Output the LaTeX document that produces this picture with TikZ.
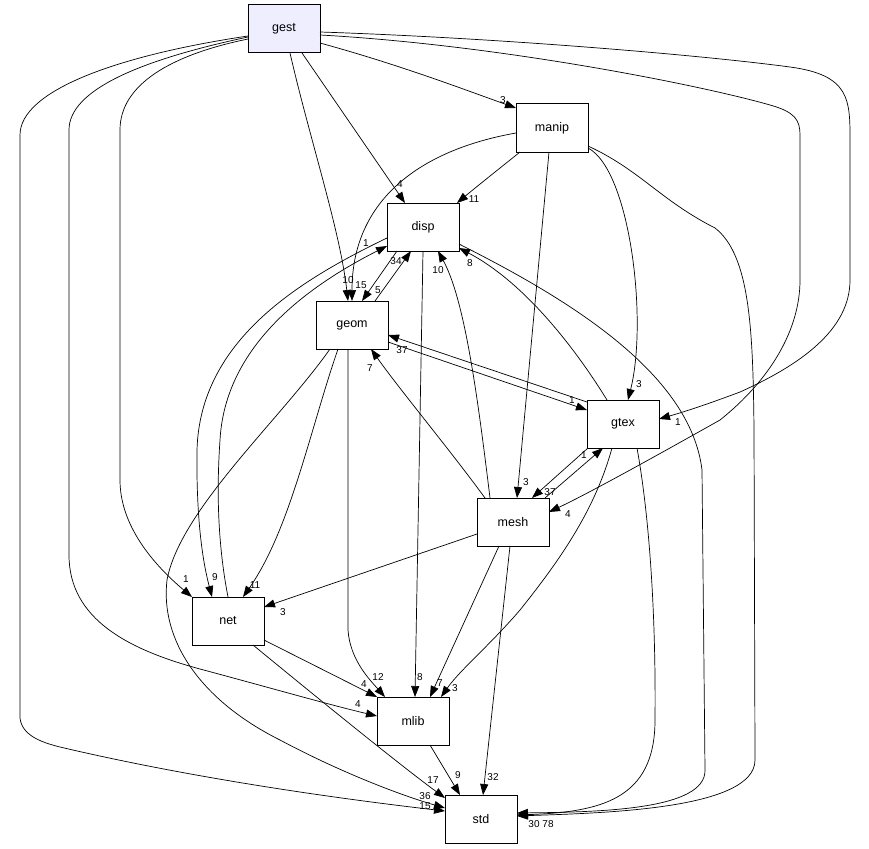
\documentclass[tikz,border=0pt]{standalone}
\usepackage{fontspec}
\setmainfont{Liberation Sans}
\usetikzlibrary{arrows.meta}
\definecolor{gestfill}{HTML}{EEEEFF}
\tikzset{
  dirbox/.style={draw=black, line width=1pt, fill=white, minimum width=72pt, minimum height=48pt, inner sep=0pt, outer sep=0pt, font=\fontsize{12.5}{14}\selectfont},
  edge/.style={draw=black, line width=0.7pt, -{Triangle[length=11pt,width=8pt]}},
  lbl/.style={inner sep=0pt, font=\fontsize{10}{11}\selectfont}
}
\begin{document}
\begin{tikzpicture}[x=1pt,y=-1pt]
\useasboundingbox (0,0) rectangle (869,848);
\fill[white] (0,0) rectangle (869,848);

\node[dirbox, fill=gestfill] (gest) at (284,29) {gest};
\node[dirbox] (manip) at (552,128) {manip};
\node[dirbox] (disp) at (423,227) {disp};
\node[dirbox] (geom) at (352,325) {geom};
\node[dirbox] (gtex) at (623,424) {gtex};
\node[dirbox] (mesh) at (513,522) {mesh};
\node[dirbox] (net) at (228,621) {net};
\node[dirbox] (mlib) at (413,721) {mlib};
\node[dirbox] (std) at (481,819) {std};

% gest edges
\draw[edge] ([yshift=-14pt]gest.east) .. controls (400,65) and (460,88) .. ([yshift=-4pt]manip.north west);
\draw[edge] ([xshift=18pt]gest.south) -- ([xshift=-18pt]disp.north);
\draw[edge] ([xshift=6pt]gest.south) .. controls (310,140) and (340,230) .. ([xshift=-4pt]geom.north);
\draw[edge] ([yshift=-3pt]gest.east) .. controls (500,38) and (700,55) .. (790,67)
  .. controls (850,75) and (850,100) .. (850,140) -- (850,280)
  .. controls (850,330) and (800,365) .. (740,392)
  .. controls (700,407) and (680,413) .. ([yshift=5pt]gtex.east);
\draw[edge] ([yshift=-6pt]gest.east) .. controls (500,45) and (700,85) .. (770,105)
  .. controls (795,112) and (800,120) .. (800,135) -- (800,280)
  .. controls (800,330) and (770,380) .. (720,420)
  .. controls (640,465) and (585,495) .. ([yshift=10pt]mesh.east);
\draw[edge] ([yshift=-10pt]gest.west) .. controls (170,55) and (120,85) .. (120,130) -- (120,480)
  .. controls (120,530) and (160,570) .. (net.north west);
\draw[edge] ([yshift=-8pt]gest.west) .. controls (140,60) and (69,90) .. (69,130) -- (69,555)
  .. controls (69,620) and (130,650) .. (200,669)
  .. controls (260,685) and (330,705) .. ([yshift=5pt]mlib.west);
\draw[edge] ([yshift=-7pt]gest.west) .. controls (120,55) and (20,90) .. (20,135) -- (20,718)
  .. controls (22,735) and (40,742) .. (60,747)
  .. controls (200,780) and (350,800) .. ([yshift=8pt]std.west);

% manip edges
\draw[edge] ([yshift=-5pt]manip.west) .. controls (420,150) and (352,200) .. (geom.north);
\draw[edge] ([xshift=-32pt]manip.south) .. controls (500,168) and (475,188) .. ([xshift=-2pt]disp.north east);
\draw[edge] ([xshift=-3pt]manip.south) -- ([xshift=4pt]mesh.north);
\draw[edge] ([yshift=4pt]manip.south east) .. controls (630,170) and (648,320) .. ([xshift=5pt]gtex.north);
\draw[edge] ([yshift=6pt]manip.south east) .. controls (640,170) and (660,200) .. (715,228)
  .. controls (750,255) and (753,330) .. (754,430) -- (755,760)
  .. controls (755,810) and (600,813) .. ([yshift=3pt]std.east);

% disp edges
\draw[edge] ([xshift=10pt]disp.south west) -- ([xshift=10pt]geom.north);
\draw[edge] ([xshift=-13pt]geom.north east) -- ([xshift=-12pt]disp.south);
\draw[edge] ([yshift=-11pt]disp.west) .. controls (300,280) and (200,340) .. (197,450)
  .. controls (196,530) and (205,570) .. ([xshift=-16pt]net.north);
\draw[edge] (net.north) .. controls (215,530) and (218,470) .. (220,440)
  .. controls (225,350) and (300,290) .. ([yshift=-19pt]disp.west);
\draw[edge] (disp.south) -- ([xshift=2pt]mlib.north);
\draw[edge] ([yshift=-17pt]disp.east) .. controls (560,295) and (690,370) .. (702,470) -- (705,770)
  .. controls (706,810) and (600,812) .. ([yshift=6pt]std.east);
\draw[edge] ([xshift=-23pt]mesh.north) .. controls (478,400) and (465,300) .. ([xshift=15pt]disp.south);
\draw[edge] ([xshift=-16pt]gtex.north) .. controls (570,340) and (520,280) .. ([yshift=3pt]disp.south east);

% geom / gtex / mesh
\draw[edge] ([yshift=22pt]gtex.west) -- ([yshift=-10pt]geom.east);
\draw[edge] ([yshift=-17pt]geom.east) -- ([yshift=14pt]gtex.west);
\draw[edge] ([xshift=8pt]mesh.north west) .. controls (450,450) and (400,390) .. ([xshift=19pt]geom.south);
\draw[edge] ([xshift=-35pt]gtex.south) -- ([xshift=19pt]mesh.north);
\draw[edge] ([xshift=-4pt]mesh.north east) -- ([xshift=-20pt]gtex.south);
\draw[edge] ([xshift=-14pt]geom.south) .. controls (310,430) and (290,530) .. ([xshift=15pt]net.north);
\draw[edge] ([xshift=-4pt]geom.south) -- (348,630) .. controls (350,660) and (370,680) .. ([xshift=8pt]mlib.north west);
\draw[edge] ([xshift=-22pt]geom.south) .. controls (280,420) and (180,510) .. (167,580)
  .. controls (160,640) and (200,700) .. (280,740)
  .. controls (340,772) and (400,795) .. ([yshift=11pt]std.west);
\draw[edge] ([yshift=-12pt]mesh.west) -- ([yshift=14pt]net.east);
\draw[edge] ([xshift=-14pt]mesh.south) -- ([xshift=17pt]mlib.north);
\draw[edge] ([xshift=-3pt]mesh.south) -- ([xshift=2pt]std.north);
\draw[edge] ([xshift=-11pt]gtex.south) .. controls (595,510) and (560,560) .. (520,610)
  .. controls (490,645) and (460,670) .. ([xshift=28pt]mlib.north);
\draw[edge] ([xshift=14pt]gtex.south) .. controls (650,520) and (656,620) .. (655,720)
  .. controls (655,800) and (600,812) .. ([yshift=4pt]std.east);

% net / mlib
\draw[edge] ([yshift=-19pt]net.east) -- (mlib.north west);
\draw[edge] ([xshift=-11pt]net.south east) .. controls (320,700) and (400,765) .. ([yshift=-3pt]std.north west);
\draw[edge] ([xshift=17pt]mlib.south) -- ([xshift=-21pt]std.north);

% labels
\node[lbl] (l1) at (503,100) {3};
\node[lbl] (l2) at (400,184) {4};
\node[lbl] (l3) at (348,280) {10};
\node[lbl] (l4) at (361,285) {15};
\node[lbl] (l5) at (474,199) {11};
\node[lbl] (l6) at (526,482) {3};
\node[lbl] (l7) at (639,384) {3};
\node[lbl] (l8) at (678,422) {1};
\node[lbl] (l9) at (568,514) {4};
\node[lbl] (l10) at (186,579) {1};
\node[lbl] (l11) at (358,704) {4};
\node[lbl] (l12) at (425,796) {36};
\node[lbl] (l13) at (425,806) {15};
\node[lbl] (l14) at (378,290) {5};
\node[lbl] (l15) at (396,261) {34};
\node[lbl] (l16) at (215,577) {9};
\node[lbl] (l17) at (366,243) {1};
\node[lbl] (l18) at (420,677) {8};
\node[lbl] (l19) at (438,270) {10};
\node[lbl] (l20) at (470,263) {8};
\node[lbl] (l21) at (402,350) {37};
\node[lbl] (l22) at (572,400) {1};
\node[lbl] (l23) at (370,368) {7};
\node[lbl] (l24) at (550,492) {37};
\node[lbl] (l25) at (584,455) {1};
\node[lbl] (l26) at (255,585) {11};
\node[lbl] (l27) at (378,677) {12};
\node[lbl] (l28) at (283,612) {3};
\node[lbl] (l29) at (440,683) {7};
\node[lbl] (l30) at (493,777) {32};
\node[lbl] (l31) at (455,688) {3};
\node[lbl] (l32) at (364,684) {4};
\node[lbl] (l33) at (433,780) {17};
\node[lbl] (l34) at (458,775) {9};
\node[lbl] (l35) at (534,824) {30};
\node[lbl] (l36) at (548,824) {78};
\end{tikzpicture}
\end{document}
